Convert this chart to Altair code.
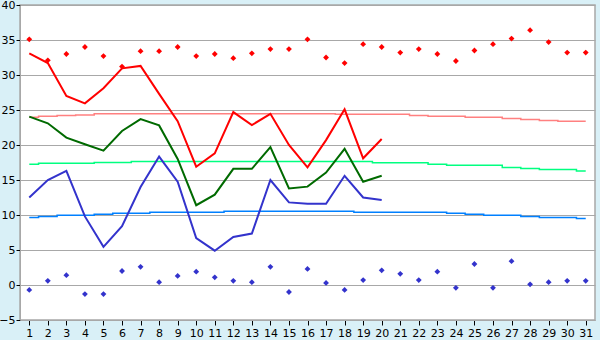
import altair as alt
import pandas as pd

days = list(range(1, 32))

rec_max = [35.1, 32.1, 33.0, 34.0, 32.7, 31.2, 33.4, 33.4, 34.0, 32.7, 33.0, 32.4, 33.1, 33.7, 33.7, 35.1,
           32.5, 31.7, 34.4, 34.0, 33.2, 33.7, 33.0, 32.0, 33.5, 34.4, 35.2, 36.4, 34.7, 33.2, 33.2]
rec_min = [-0.7, 0.6, 1.4, -1.3, -1.3, 2.0, 2.6, 0.4, 1.3, 1.9, 1.1, 0.6, 0.4, 2.6, -1.0, 2.3,
           0.3, -0.7, 0.7, 2.1, 1.6, 0.7, 1.9, -0.4, 3.0, -0.4, 3.4, 0.1, 0.4, 0.6, 0.6]

tmax = [33.1, 31.7, 27.0, 25.95, 28.1, 30.95, 31.3, 27.3, 23.4, 16.9, 18.8, 24.7, 22.85, 24.45, 20.0,
        16.8, 20.7, 25.1, 18.1, 20.85]
tmean = [24.05, 23.1, 21.05, 20.1, 19.2, 22.0, 23.7, 22.8, 18.0, 11.4, 12.9, 16.6, 16.6, 19.7, 13.8,
         14.05, 16.05, 19.45, 14.75, 15.6]
tmin = [12.5, 15.0, 16.3, 9.8, 5.45, 8.4, 14.0, 18.35, 14.75, 6.7, 4.9, 6.85, 7.35, 15.0, 11.8,
        11.6, 11.6, 15.6, 12.5, 12.15]

norm_max = [23.95, 24.1, 24.2, 24.3] + [24.45] * 13 + [24.4] * 4 + [24.2, 24.1, 24.1, 23.95, 23.95,
                                                                     23.8, 23.65, 23.5, 23.4, 23.4]
norm_mean = [17.25, 17.4, 17.4, 17.4, 17.5, 17.5] + [17.65] * 13 + [17.45] * 3 + [17.25, 17.1, 17.1, 17.1,
                                                                                   16.8, 16.65, 16.5, 16.5, 16.3]
norm_min = [9.65, 9.8, 9.95, 9.95, 10.1, 10.25, 10.25, 10.4, 10.4, 10.4, 10.4] + [10.55] * 7 + \
           [10.4] * 5 + [10.25, 10.1, 9.95, 9.95, 9.8, 9.65, 9.65, 9.5]

def frame(vals, name):
    return pd.DataFrame({"day": days[:len(vals)], "value": vals, "series": name})

x = alt.X("day:Q", scale=alt.Scale(domain=[0.5, 31.5], nice=False, zero=False),
          axis=alt.Axis(values=days, grid=False, title=None, tickSize=5, labelPadding=2,
                        domainColor="#a8a8a8", tickColor="#000000", labelFontSize=11,
                        labelFont="DejaVu Sans", labelColor="#000000", labelFlush=False))
y = alt.Y("value:Q", scale=alt.Scale(domain=[-5, 40], nice=False, zero=False),
          axis=alt.Axis(values=list(range(-5, 41, 5)), grid=True, gridColor="#a8a8a8", title=None,
                        tickSize=4, labelPadding=1, domainColor="#a8a8a8", tickColor="#000000",
                        labelFontSize=11, labelFont="DejaVu Sans", labelColor="#000000", labelFlush=False))

def line(vals, name, color, width, step=False):
    kw = {"interpolate": "step"} if step else {}
    return alt.Chart(frame(vals, name)).mark_line(color=color, strokeWidth=width, **kw).encode(x=x, y=y)

def pts(vals, name, color):
    return alt.Chart(frame(vals, name)).mark_point(shape="diamond", filled=True, size=34, color=color,
                                                   opacity=1).encode(x=x, y=y)

chart = alt.layer(
    line(norm_max, "Normal max", "#ff8080", 1.5, True),
    line(norm_mean, "Normal mean", "#00ff80", 1.5, True),
    line(norm_min, "Normal min", "#0080ff", 1.5, True),
    line(tmax, "Max", "#ff0000", 2),
    line(tmean, "Mean", "#006a00", 2),
    line(tmin, "Min", "#3333cc", 2),
    pts(rec_max, "Record max", "#ff0000"),
    pts(rec_min, "Record min", "#3333cc"),
).properties(
    width=575, height=315, background="#d9f0f7",
    padding={"left": 20, "top": 5, "right": 5, "bottom": 20},
    autosize=alt.AutoSizeParams(type="none"),
).configure_view(fill="#ffffff", stroke="#a8a8a8", strokeWidth=1.5)

chart.save("out.html", embed_options={"renderer": "svg", "actions": False})
